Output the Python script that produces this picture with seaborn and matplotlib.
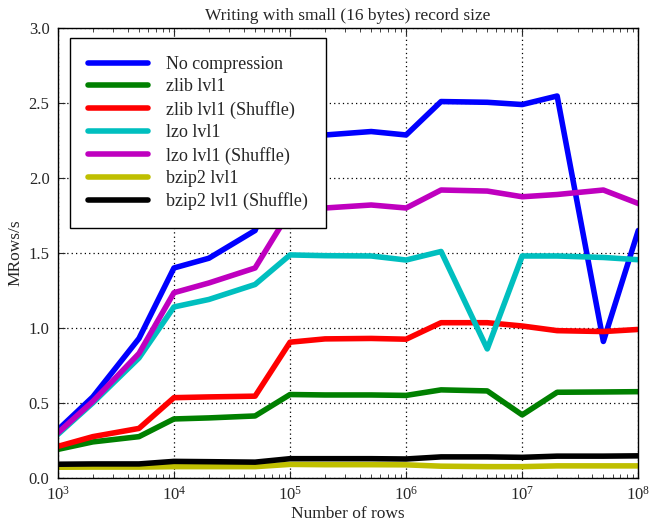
import numpy as np
import pandas as pd
import matplotlib
matplotlib.use('Agg')
import matplotlib.pyplot as plt
import seaborn as sns

# number of rows (x) and MRows/s per codec
rows = [1e3, 2e3, 5e3, 1e4, 2e4, 5e4, 1e5, 2e5, 5e5, 1e6, 2e6, 5e6, 1e7, 2e7, 5e7, 1e8]

no_comp = [0.32, 0.54, 0.93, 1.40, 1.465, 1.65, 2.25, 2.287, 2.31, 2.287, 2.51, 2.505, 2.49, 2.547, 0.91, 1.65]
zlib = [0.19, 0.24, 0.275, 0.393, 0.40, 0.413, 0.556, 0.553, 0.553, 0.55, 0.587, 0.58, 0.42, 0.571, 0.573, 0.575]
zlib_shuf = [0.21, 0.275, 0.33, 0.535, 0.54, 0.545, 0.905, 0.927, 0.93, 0.925, 1.035, 1.035, 1.013, 0.982, 0.976, 0.99]
lzo = [0.29, 0.50, 0.80, 1.14, 1.19, 1.29, 1.487, 1.482, 1.48, 1.453, 1.51, 0.86, 1.48, 1.48, 1.47, 1.455]
lzo_shuf = [0.30, 0.51, 0.83, 1.235, 1.30, 1.40, 1.78, 1.80, 1.82, 1.80, 1.92, 1.913, 1.875, 1.89, 1.92, 1.83]
bzip2 = [0.071, 0.072, 0.072, 0.075, 0.075, 0.075, 0.09, 0.088, 0.088, 0.087, 0.078, 0.075, 0.075, 0.08, 0.08, 0.08]
bzip2_shuf = [0.091, 0.093, 0.093, 0.11, 0.108, 0.105, 0.128, 0.128, 0.128, 0.126, 0.14, 0.14, 0.137, 0.145, 0.145, 0.147]

labels = ['No compression', 'zlib lvl1', 'zlib lvl1 (Shuffle)', 'lzo lvl1',
          'lzo lvl1 (Shuffle)', 'bzip2 lvl1', 'bzip2 lvl1 (Shuffle)']
series = [no_comp, zlib, zlib_shuf, lzo, lzo_shuf, bzip2, bzip2_shuf]
colors = ['#0000ff', '#008000', '#ff0000', '#00bfbf', '#bf00bf', '#bfbf00', '#000000']

df = pd.DataFrame({
    'rows': rows * len(labels),
    'speed': [v for s in series for v in s],
    'codec': [lab for lab in labels for _ in rows],
})

sns.set_style('ticks')
plt.rcParams['font.family'] = ['Liberation Serif', 'DejaVu Serif']
plt.rcParams['xtick.direction'] = 'in'
plt.rcParams['ytick.direction'] = 'in'

fig = plt.figure(figsize=(6.5, 5.2), dpi=100)
ax = fig.add_axes([0.089, 0.081, 0.893, 0.865])

sns.lineplot(data=df, x='rows', y='speed', hue='codec', hue_order=labels,
             palette=dict(zip(labels, colors)), linewidth=4, ax=ax)

ax.set_xscale('log')
ax.set_xlim(1e3, 1e8)
ax.set_ylim(0, 3.0)
ax.set_yticks(np.arange(0, 3.01, 0.5))
ax.yaxis.set_major_formatter(matplotlib.ticker.FormatStrFormatter('%.1f'))
ax.grid(True, which='major', linestyle=(0, (1, 2.5)), color='black', linewidth=0.9)
ax.tick_params(which='both', top=True, right=True, labelsize=12)
ax.tick_params(which='major', length=5)
ax.tick_params(which='minor', length=3)
ax.tick_params(axis='x', which='major', pad=6)
ax.tick_params(axis='y', which='major', pad=6)
for sp in ax.spines.values():
    sp.set_linewidth(1)
    sp.set_color('black')

ax.set_title('Writing with small (16 bytes) record size', fontsize=12.5)
ax.set_xlabel('Number of rows', fontsize=12.5, labelpad=1)
ax.set_ylabel('MRows/s', fontsize=12.5)

leg = ax.legend(loc='upper left', fontsize=13, handlelength=3.3, handletextpad=1.0,
                borderpad=1.0, borderaxespad=0, labelspacing=0.3,
                fancybox=False, framealpha=1, bbox_to_anchor=(0.021, 0.978))
leg.get_frame().set_edgecolor('black')
leg.get_frame().set_linewidth(1)

fig.savefig('out.png', dpi=100)
